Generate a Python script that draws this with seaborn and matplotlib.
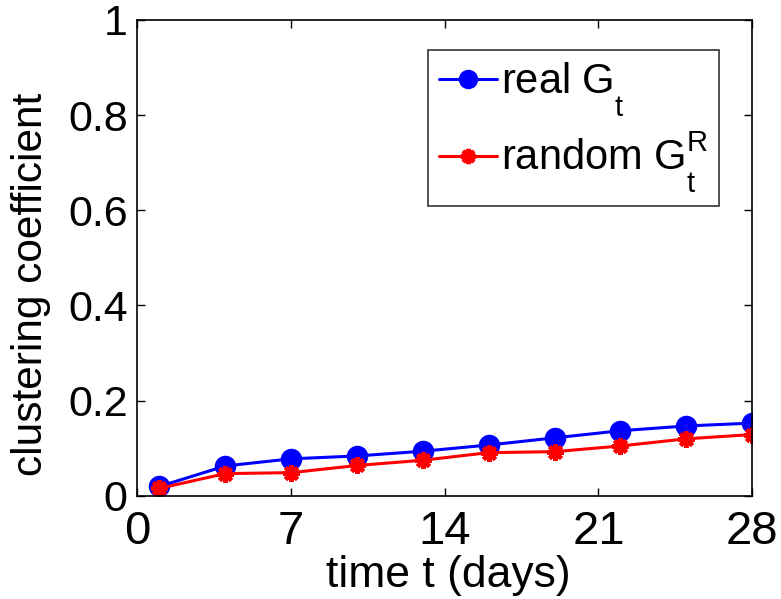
import numpy as np
import pandas as pd
import matplotlib
matplotlib.use("Agg")
import matplotlib.pyplot as plt
from matplotlib.colors import to_hex
import matplotlib._mathtext as mt
import seaborn as sns

# Datos
dias = [1, 4, 7, 10, 13, 16, 19, 22, 25, 28]
real = [0.020, 0.063, 0.078, 0.084, 0.094, 0.107, 0.122, 0.137, 0.147, 0.153]
aleatorio = [0.016, 0.047, 0.049, 0.064, 0.075, 0.091, 0.093, 0.105, 0.120, 0.129]

etiqueta_real = r"real $\mathrm{G}_\mathrm{t}$"
etiqueta_rand = r"random $\mathrm{G}_\mathrm{t}^\mathrm{R}$"

df = pd.DataFrame({
    "dia": dias * 2,
    "coef": real + aleatorio,
    "serie": [etiqueta_real] * len(dias) + [etiqueta_rand] * len(dias),
})

sns.set_style("white")
plt.rcParams["font.family"] = ["Liberation Sans", "DejaVu Sans"]
plt.rcParams["mathtext.fontset"] = "custom"
plt.rcParams["mathtext.rm"] = "Liberation Sans"
plt.rcParams["mathtext.it"] = "Liberation Sans:italic"
for k in ["text.color", "axes.labelcolor", "xtick.color", "ytick.color"]:
    plt.rcParams[k] = "black"

# subindices mas bajos, como en MATLAB
mt.FontConstantsBase.sub1 = 1.0
mt.FontConstantsBase.sub2 = 1.0
mt.FontConstantsBase.sup1 = 0.8

fig = plt.figure(figsize=(7.81, 5.99), dpi=100)
ax = fig.add_axes([0.176, 0.172, 0.787, 0.795])

sns.lineplot(
    data=df, x="dia", y="coef", hue="serie", style="serie",
    palette={etiqueta_real: "#0000ff", etiqueta_rand: "#ff0000"},
    markers={etiqueta_real: "o", etiqueta_rand: "*"},
    dashes=False, linewidth=2.2, markersize=15,
    ax=ax,
)

# asterisco tipo MATLAB para la serie aleatoria
asterisco = (8, 2, 0)


def ajustar(ln, s_circ, s_ast):
    if to_hex(ln.get_color()) == "#ff0000":
        ln.set_marker(asterisco)
        ln.set_markersize(s_ast)
        ln.set_markeredgewidth(3)
        ln.set_markeredgecolor("#ff0000")
    else:
        ln.set_markersize(s_circ)
        ln.set_markeredgewidth(0)


for ln in ax.get_lines():
    ajustar(ln, 15.5, 12)

ax.set_xlim(0, 28)
ax.set_ylim(0, 1)
ax.set_xticks([0, 7, 14, 21, 28])
ax.set_yticks([0, 0.2, 0.4, 0.6, 0.8, 1])
ax.set_yticklabels(["0", "0.2", "0.4", "0.6", "0.8", "1"])
ax.tick_params(direction="in", length=6, width=1,
               top=True, right=True, bottom=True, left=True)
ax.tick_params(axis="x", labelsize=34, pad=10)
ax.tick_params(axis="y", labelsize=31, pad=7)
for s in ax.spines.values():
    s.set_color("black")
    s.set_linewidth(1.2)

ax.set_xlabel("time t (days)", fontsize=32)
ax.xaxis.set_label_coords(0.506, -0.124)
ax.set_ylabel("clustering coefficient", fontsize=30.5)
ax.yaxis.set_label_coords(-0.14, 0.445)

leg = ax.legend(loc="upper right", fontsize=30, frameon=True, fancybox=False,
                edgecolor="black", handlelength=1.4, handletextpad=0.1,
                borderpad=0.25, labelspacing=0.27, borderaxespad=0,
                bbox_to_anchor=(0.946, 0.937))
leg.get_frame().set_linewidth(1.2)
for h in leg.legend_handles:
    h.set_linewidth(2.2)
    ajustar(h, 14, 11)

fig.savefig("out.png", dpi=100)
